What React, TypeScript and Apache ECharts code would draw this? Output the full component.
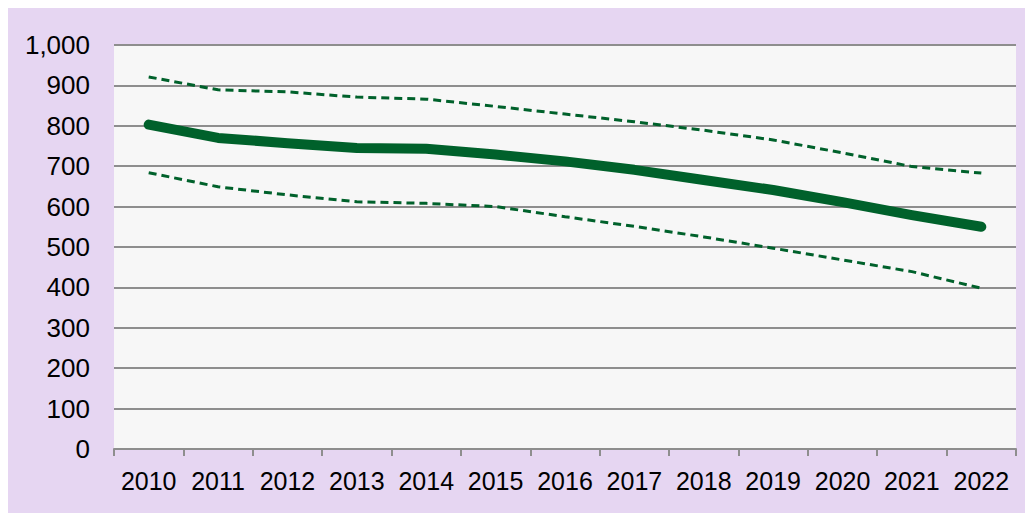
import React, { useEffect, useRef } from "react";
import * as echarts from "echarts";

const years = ["2010","2011","2012","2013","2014","2015","2016","2017","2018","2019","2020","2021","2022"];
const central = [803, 770, 757, 745, 743, 729, 712, 691, 666, 641, 611, 579, 550];
const upper = [921, 889, 884, 871, 866, 848, 829, 810, 789, 765, 733, 699, 683];
const lower = [684, 649, 629, 612, 608, 600, 575, 551, 525, 497, 468, 439, 398];
const yTicks = { min: 0, max: 1000, interval: 100 };

export default function App() {
  const ref = useRef<HTMLDivElement>(null);
  useEffect(() => {
    if (!ref.current) return;
    const chart = echarts.init(ref.current, null, { renderer: "svg" });
    const green = "#00612B";
    const gray = "#8E8E8E";
    const font = "Liberation Sans, Arial, sans-serif";
    chart.setOption({
      animation: false,
      backgroundColor: "#E6D6F2",
      grid: {
        left: 106,
        right: 17,
        top: 37,
        bottom: 64,
        show: true,
        backgroundColor: "#F7F7F7",
        borderWidth: 0,
      },
      xAxis: {
        type: "category",
        data: years,
        boundaryGap: true,
        axisLine: { show: true, lineStyle: { color: gray, width: 2 } },
        axisTick: { show: true, length: 7, lineStyle: { color: gray, width: 2 } },
        axisLabel: { color: "#000", fontSize: 25, fontFamily: font, margin: 19, interval: 0 },
        splitLine: { show: false },
      },
      yAxis: {
        type: "value",
        min: yTicks.min,
        max: yTicks.max,
        interval: yTicks.interval,
        axisLine: { show: false },
        axisTick: { show: false },
        axisLabel: {
          color: "#000",
          fontSize: 26,
          fontFamily: font,
          margin: 24,
          formatter: (v: number) => v.toLocaleString("en-US"),
        },
        splitLine: { show: true, lineStyle: { color: gray, width: 2 } },
      },
      series: [
        {
          type: "line",
          data: upper,
          symbol: "none",
          lineStyle: { color: green, width: 3, type: [8, 5] },
          z: 2,
        },
        {
          type: "line",
          data: lower,
          symbol: "none",
          lineStyle: { color: green, width: 3, type: [8, 5] },
          z: 2,
        },
        {
          type: "line",
          data: central,
          symbol: "none",
          lineStyle: { color: green, width: 10, cap: "round", join: "round" },
          z: 3,
        },
      ],
    });
    return () => chart.dispose();
  }, []);
  return <div ref={ref} style={{ width: 1025, height: 505 }} />;
}
